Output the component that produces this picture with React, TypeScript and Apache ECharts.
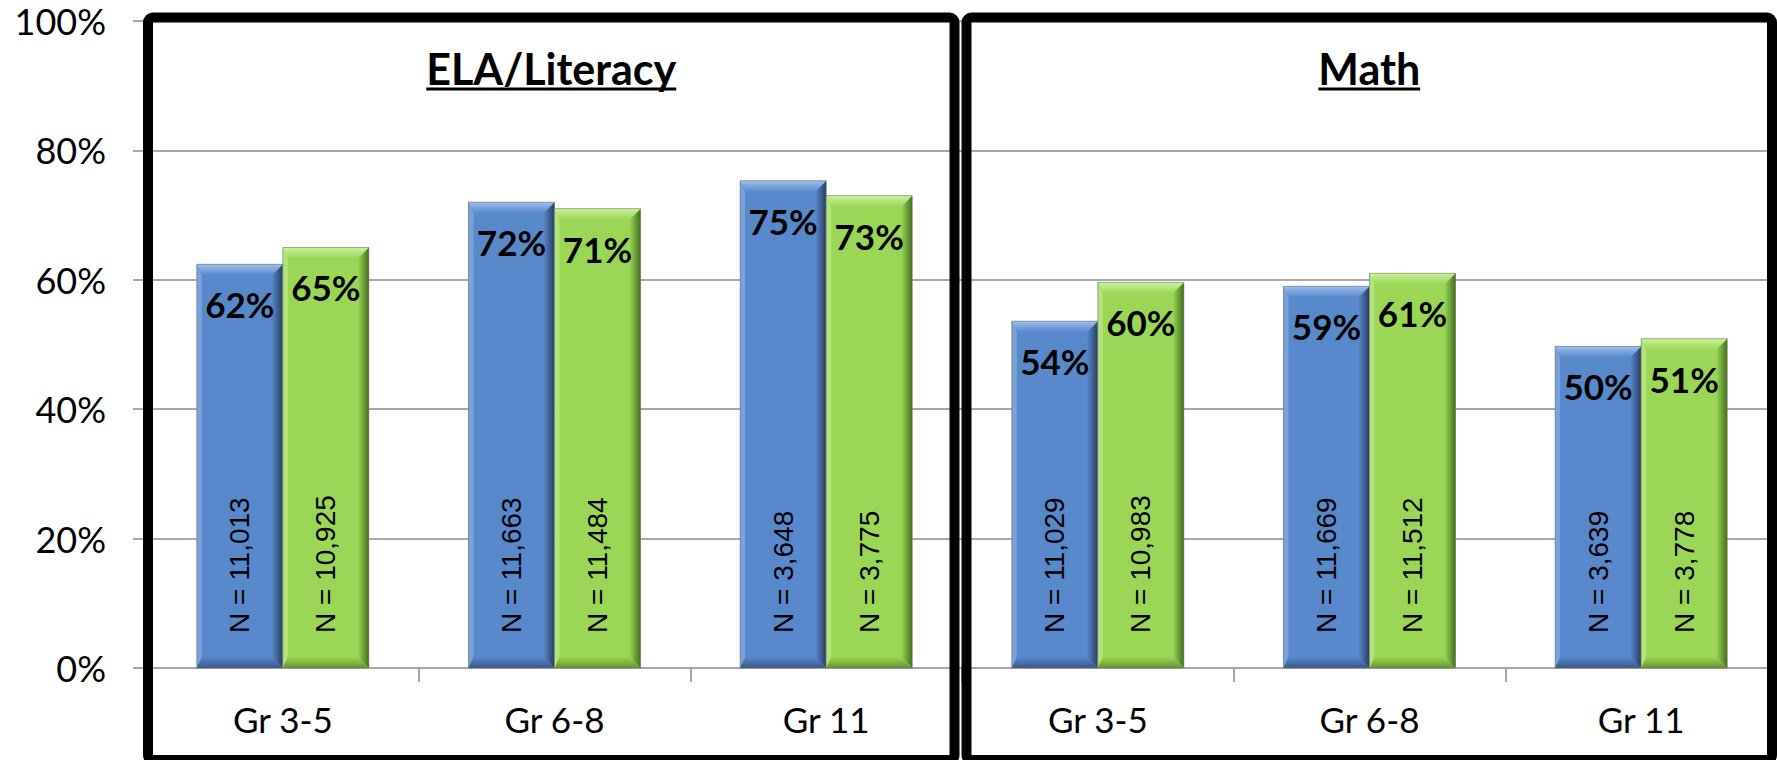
import React, { useEffect, useRef } from "react";
import * as echarts from "echarts";

// ---- data ----
const subjects = ["ELA/Literacy", "Math"];
const categories = ["Gr 3-5", "Gr 6-8", "Gr 11", "Gr 3-5", "Gr 6-8", "Gr 11"];
const blueValues = [62.4, 72, 75.3, 53.6, 59, 49.7];
const greenValues = [65, 71, 73, 59.6, 61, 50.9];
const blueN = ["11,013", "11,663", "3,648", "11,029", "11,669", "3,639"];
const greenN = ["10,925", "11,484", "3,775", "10,983", "11,512", "3,778"];
const yTicks = [0, 20, 40, 60, 80, 100];

// ---- styles ----
const W = 1777;
const H = 760;
const GRID = { left: 147, right: 0, top: 21, bottom: 92 };
const BAR_RATIO = 0.3166;
const BEVEL = 11;
const GRAY = "#A6A6A6";
const FONT = "Lato";
const BLUE = { face: "#5889CA", light: "#9EC1EF", side: "#78A2DA", dark: "#263F64", bottom: "#35598A" };
const GREEN = { face: "#9AD756", light: "#CBF39B", side: "#B2E47E", dark: "#44701C", bottom: "#64932F" };

function makeRenderer(side: number, pal: any, nLabels: string[]) {
  return (params: any, api: any) => {
    const i = api.value(0);
    const v = api.value(1);
    const base = api.coord([i, 0]);
    const topP = api.coord([i, v]);
    const band = api.size([1, 0])[0];
    const w = band * BAR_RATIO;
    const x0 = side === 0 ? base[0] - w : base[0];
    const x1 = x0 + w;
    const y0 = topP[1];
    const y1 = base[1];
    const b = BEVEL;
    const bl = 5;
    const cx = (x0 + x1) / 2;
    const LG = echarts.graphic.LinearGradient;
    return {
      type: "group",
      silent: true,
      children: [
        { type: "rect", shape: { x: x0, y: y0, width: w, height: y1 - y0 }, style: { fill: pal.face } },
        {
          type: "polygon",
          shape: { points: [[x0, y0], [x0 + bl, y0 + b], [x0 + bl, y1 - b], [x0, y1]] },
          style: { fill: pal.side },
        },
        {
          type: "polygon",
          shape: { points: [[x1, y0], [x1, y1], [x1 - b, y1 - b], [x1 - b, y0 + b]] },
          style: {
            fill: new LG(0, 0, 1, 0, [
              { offset: 0, color: pal.face },
              { offset: 1, color: pal.dark },
            ]),
          },
        },
        {
          type: "polygon",
          shape: { points: [[x0, y0], [x1, y0], [x1 - b, y0 + b], [x0 + bl, y0 + b]] },
          style: {
            fill: new LG(0, 0, 0, 1, [
              { offset: 0, color: pal.light },
              { offset: 1, color: pal.face },
            ]),
          },
        },
        {
          type: "polygon",
          shape: { points: [[x0, y1], [x1, y1], [x1 - b, y1 - b], [x0 + bl, y1 - b]] },
          style: {
            fill: new LG(0, 0, 0, 1, [
              { offset: 0, color: pal.face },
              { offset: 1, color: pal.bottom },
            ]),
          },
        },
        {
          type: "rect",
          shape: { x: x0, y: y0, width: w, height: y1 - y0 },
          style: { fill: "none", stroke: "rgba(110,110,110,0.55)", lineWidth: 1 },
        },
        {
          type: "text",
          x: cx,
          y: y0 + 40,
          style: {
            text: Math.round(v) + "%",
            fill: "#000",
            fontFamily: FONT,
            fontWeight: "bold",
            fontSize: 35,
            align: "center",
            verticalAlign: "middle",
          },
        },
        {
          type: "text",
          x: cx,
          y: y1 - 35,
          rotation: Math.PI / 2,
          style: {
            text: "N = " + nLabels[params.dataIndex],
            fill: "#000",
            fontFamily: "Liberation Sans",
            fontSize: 28,
            align: "left",
            verticalAlign: "middle",
          },
        },
      ],
    };
  };
}

function measure(text: string, font: string) {
  const c = document.createElement("canvas").getContext("2d");
  if (!c) return text.length * 20;
  c.font = font;
  return c.measureText(text).width;
}

export default function App() {
  const ref = useRef<HTMLDivElement>(null);
  useEffect(() => {
    if (!ref.current) return;
    const chart = echarts.init(ref.current, undefined, { renderer: "svg", width: W, height: H });

    const boxes = [
      { x: 148, y: 17.5, width: 806.5, height: H - 17.5 },
      { x: 966.5, y: 17.5, width: 805.5, height: H - 17.5 },
    ];
    const titleFont = `bold 43px ${FONT}`;
    const graphics: any[] = [];
    boxes.forEach((bx, k) => {
      graphics.push({
        type: "rect",
        z: 100,
        silent: true,
        shape: { x: bx.x, y: bx.y, width: bx.width, height: bx.height, r: 5 },
        style: { fill: "none", stroke: "#000", lineWidth: 10 },
      });
      const cx = bx.x + bx.width / 2;
      const tw = measure(subjects[k], titleFont);
      graphics.push({
        type: "text",
        z: 100,
        x: cx,
        y: 68,
        style: {
          text: subjects[k],
          fill: "#000",
          fontFamily: FONT,
          fontWeight: "bold",
          fontSize: 43,
          align: "center",
          verticalAlign: "middle",
        },
      });
      graphics.push({
        type: "rect",
        z: 100,
        silent: true,
        shape: { x: cx - tw / 2, y: 87.5, width: tw, height: 3 },
        style: { fill: "#000" },
      });
    });

    chart.setOption({
      animation: false,
      backgroundColor: "#fff",
      grid: { ...GRID, containLabel: false, outerBoundsMode: "none" },
      xAxis: {
        type: "category",
        data: categories,
        boundaryGap: true,
        axisLine: { show: true, lineStyle: { color: GRAY, width: 2 } },
        axisTick: { show: true, alignWithLabel: false, interval: 0, length: 14, lineStyle: { color: GRAY, width: 2 } },
        axisLabel: { interval: 0, margin: 33, color: "#000", fontFamily: FONT, fontSize: 35 },
        splitLine: { show: false },
      },
      yAxis: {
        type: "value",
        min: yTicks[0],
        max: yTicks[yTicks.length - 1],
        interval: yTicks[1] - yTicks[0],
        axisLine: { show: false },
        axisTick: { show: true, length: 14, lineStyle: { color: GRAY, width: 2 } },
        axisLabel: { margin: 41, color: "#000", fontFamily: FONT, fontSize: 36, formatter: "{value}%" },
        splitLine: { show: true, lineStyle: { color: GRAY, width: 2 } },
      },
      series: [
        {
          type: "custom",
          name: "Blue",
          renderItem: makeRenderer(0, BLUE, blueN),
          encode: { x: 0, y: 1 },
          data: blueValues.map((v, i) => [i, v]),
          z: 5,
        },
        {
          type: "custom",
          name: "Green",
          renderItem: makeRenderer(1, GREEN, greenN),
          encode: { x: 0, y: 1 },
          data: greenValues.map((v, i) => [i, v]),
          z: 5,
        },
      ],
      graphic: graphics,
    });
    return () => chart.dispose();
  }, []);
  return <div ref={ref} style={{ position: "absolute", left: 0, top: 0, width: W + "px", height: H + "px" }} />;
}
